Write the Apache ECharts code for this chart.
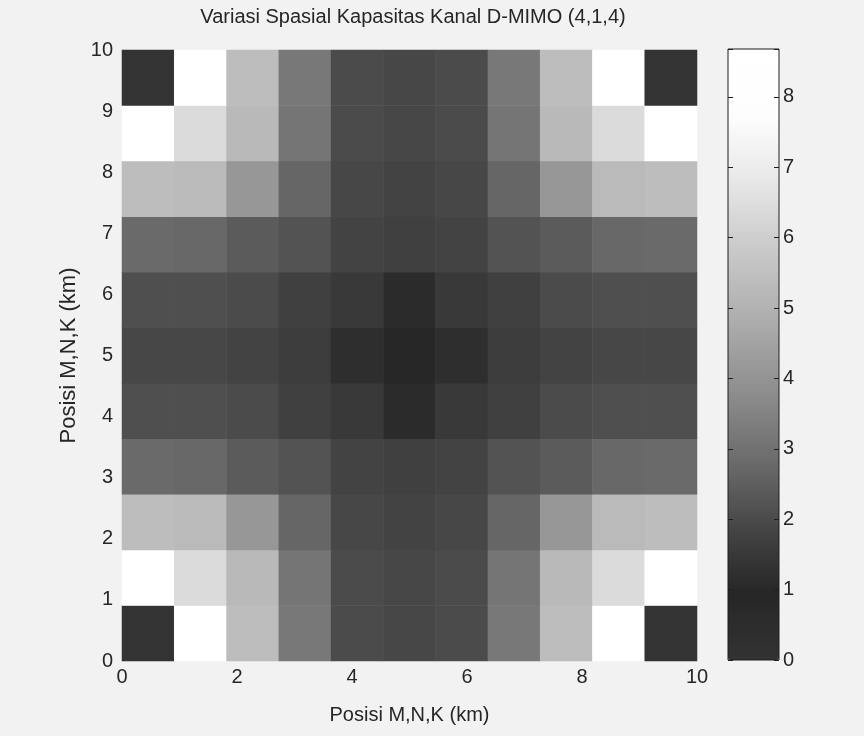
<!DOCTYPE html>
<html>
<head>
<meta charset="utf-8">
<script src="https://cdn.jsdelivr.net/npm/echarts@6/dist/echarts.min.js"></script>
<style>
html,body{margin:0;padding:0;background:#f2f2f2;}
#chart{width:864px;height:736px;}
</style>
</head>
<body>
<div id="chart"></div>
<script>
// ---- data ----
const cellIndex = ['0','1','2','3','4','5','6','7','8','9','10'];
const xTickLabels = [0, 2, 4, 6, 8, 10];
const yTickLabels = [0, 1, 2, 3, 4, 5, 6, 7, 8, 9, 10];
const colorbarTicks = [0, 1, 2, 3, 4, 5, 6, 7, 8];
const capacityMin = 0;
const capacityMax = 8.68;

// capacity per cell, one array per row, from top (row 10) to bottom (row 0)
const row10 = [0.0, 8.6, 5.4, 3.2, 2.0, 1.9, 2.0, 3.2, 5.4, 8.6, 0.0];
const row9  = [8.6, 6.4, 5.25, 3.1, 2.0, 1.9, 2.0, 3.1, 5.25, 6.4, 8.6];
const row8  = [5.4, 5.3, 4.1, 2.7, 1.9, 1.8, 1.9, 2.7, 4.1, 5.3, 5.4];
const row7  = [2.8, 2.75, 2.4, 2.2, 1.8, 1.7, 1.8, 2.2, 2.4, 2.75, 2.8];
const row6  = [2.1, 2.1, 2.0, 1.7, 1.5, 1.1, 1.5, 1.7, 2.0, 2.1, 2.1];
const row5  = [1.9, 1.9, 1.8, 1.6, 1.2, 1.0, 1.2, 1.6, 1.8, 1.9, 1.9];
const row4  = [2.1, 2.1, 2.0, 1.7, 1.5, 1.1, 1.5, 1.7, 2.0, 2.1, 2.1];
const row3  = [2.8, 2.75, 2.4, 2.2, 1.8, 1.7, 1.8, 2.2, 2.4, 2.75, 2.8];
const row2  = [5.4, 5.3, 4.1, 2.7, 1.9, 1.8, 1.9, 2.7, 4.1, 5.3, 5.4];
const row1  = [8.6, 6.4, 5.25, 3.1, 2.0, 1.9, 2.0, 3.1, 5.25, 6.4, 8.6];
const row0  = [0.0, 8.6, 5.4, 3.2, 2.0, 1.9, 2.0, 3.2, 5.4, 8.6, 0.0];

const rowsBottomToTop = [row0, row1, row2, row3, row4, row5, row6, row7, row8, row9, row10];
const heatData = [];
rowsBottomToTop.forEach(function (row, j) {
  row.forEach(function (v, i) { heatData.push([i, j, v]); });
});

// ---- chart ----
const FONT = '"Liberation Sans",Arial,sans-serif';
const TXT = '#262626';
const chart = echarts.init(document.getElementById('chart'), null, {renderer: 'canvas'});

chart.setOption({
  backgroundColor: '#f2f2f2',
  animation: false,
  title: {
    text: 'Variasi Spasial Kapasitas Kanal D-MIMO (4,1,4)',
    left: 408, top: 2, textAlign: 'center',
    textStyle: {fontFamily: FONT, fontSize: 20, fontWeight: 'normal', color: TXT}
  },
  grid: [
    {left: 122, top: 50, width: 575, height: 611, show: false},
    {left: 728, top: 49, width: 51, height: 611, show: true, zlevel: 1, z: 20,
     backgroundColor: 'transparent', borderColor: '#1e1e1e', borderWidth: 1}
  ],
  xAxis: [
    {type: 'category', gridIndex: 0, data: cellIndex, show: false, position: 'top'},
    {type: 'value', gridIndex: 0, min: 0, max: 10, interval: 2, position: 'bottom',
     axisLine: {show: false, onZero: false}, axisTick: {show: false}, splitLine: {show: false},
     axisLabel: {fontFamily: FONT, fontSize: 20, color: TXT, margin: 6,
       formatter: function (v) { return xTickLabels.indexOf(v) >= 0 ? String(v) : ''; }},
     name: 'Posisi M,N,K (km)', nameLocation: 'middle', nameGap: 44,
     nameTextStyle: {fontFamily: FONT, fontSize: 20, color: TXT}},
    {type: 'value', gridIndex: 1, min: 0, max: 1, show: false}
  ],
  yAxis: [
    {type: 'category', gridIndex: 0, data: cellIndex, show: false, position: 'right'},
    {type: 'value', gridIndex: 0, min: 0, max: 10, interval: 1, position: 'left',
     axisLine: {show: false, onZero: false}, axisTick: {show: false}, splitLine: {show: false},
     axisLabel: {fontFamily: FONT, fontSize: 20, color: TXT, margin: 9,
       formatter: function (v) { return yTickLabels.indexOf(v) >= 0 ? String(v) : ''; }},
     name: 'Posisi M,N,K (km)', nameLocation: 'middle', nameGap: 34, nameRotate: 90,
     nameTextStyle: {fontFamily: FONT, fontSize: 22, color: TXT}},
    {type: 'value', gridIndex: 1, min: capacityMin, max: capacityMax, interval: 1, position: 'right',
     zlevel: 1, z: 20,
     axisLine: {show: false, onZero: false}, splitLine: {show: false},
     axisTick: {show: true, inside: true, length: 5, lineStyle: {color: '#1e1e1e', width: 1}},
     axisLabel: {fontFamily: FONT, fontSize: 20, color: TXT, margin: 4,
       formatter: function (v) { return colorbarTicks.indexOf(v) >= 0 ? String(v) : ''; }}},
    {type: 'value', gridIndex: 1, min: capacityMin, max: capacityMax, interval: 1, position: 'left',
     zlevel: 1, z: 20,
     axisLine: {show: false, onZero: false}, splitLine: {show: false}, axisLabel: {show: false},
     axisTick: {show: true, inside: true, length: 5, lineStyle: {color: '#1e1e1e', width: 1}}}
  ],
  visualMap: {
    type: 'continuous', seriesIndex: 0, min: capacityMin, max: capacityMax,
    calculable: false, show: true, left: 728, top: 49, itemWidth: 51, itemHeight: 611,
    padding: 0, text: null, showLabel: false, hoverLink: false, z: 4,
    inRange: {color: ['#333333', '#262626', '#484848', '#6e6e6e', '#8f8f8f',
                      '#adadad', '#c8c8c8', '#e6e6e6', '#fdfdfd', '#ffffff']}
  },
  series: [{
    type: 'heatmap', xAxisIndex: 0, yAxisIndex: 0, data: heatData,
    itemStyle: {borderWidth: 0}, emphasis: {disabled: true}
  }]
});
</script>
</body>
</html>
